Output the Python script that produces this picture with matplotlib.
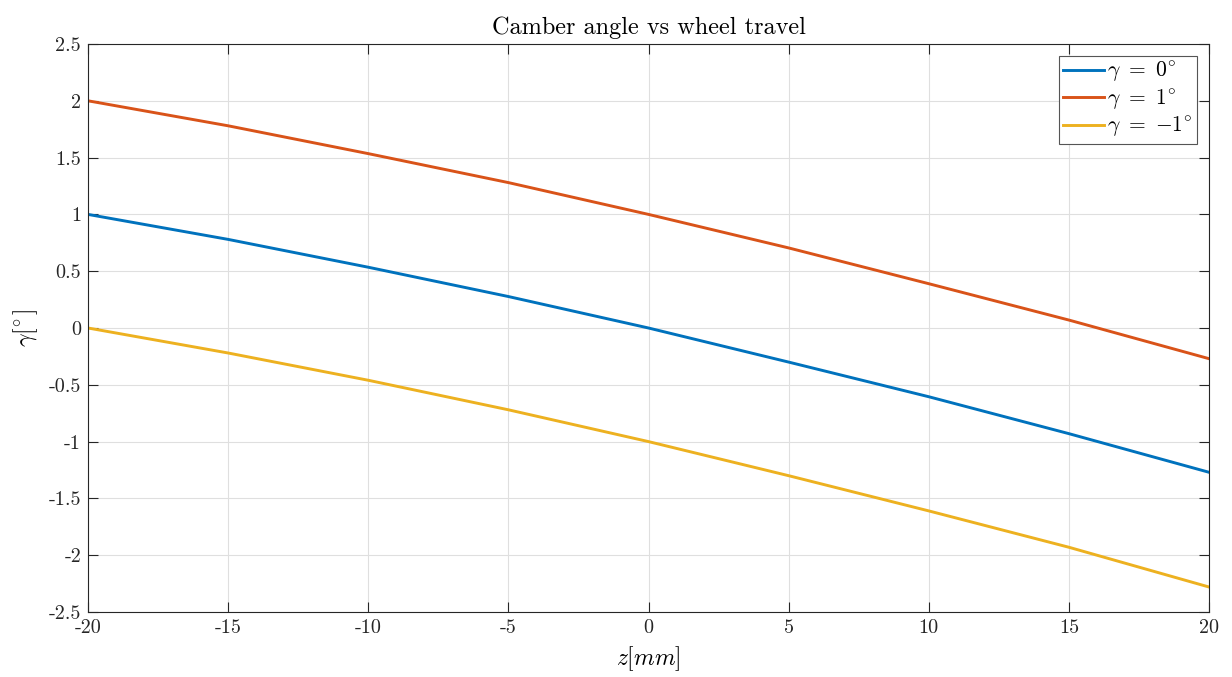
import numpy as np
import matplotlib
matplotlib.use('Agg')
import matplotlib.pyplot as plt
from matplotlib.ticker import FuncFormatter

# data
z = [-20, -15, -10, -5, 0, 5, 10, 15, 20]
gamma_0 = [1.0, 0.78, 0.535, 0.277, 0.0, -0.30, -0.605, -0.93, -1.27]
gamma_p1 = [2.0, 1.78, 1.535, 1.28, 1.0, 0.705, 0.39, 0.07, -0.27]
gamma_m1 = [0.0, -0.22, -0.46, -0.72, -1.0, -1.30, -1.61, -1.93, -2.28]
labels = [r'$\gamma\ =\ 0^{\!\circ}$', r'$\gamma\ =\ 1^{\!\circ}$', r'$\gamma\ =\ {-1}^{\!\circ}$']

xticks = [-20, -15, -10, -5, 0, 5, 10, 15, 20]
yticks = [-2.5, -2, -1.5, -1, -0.5, 0, 0.5, 1, 1.5, 2, 2.5]

plt.rcParams['font.family'] = ['cmr10', 'DejaVu Serif']
plt.rcParams['mathtext.fontset'] = 'cm'
plt.rcParams['axes.unicode_minus'] = False
plt.rcParams['axes.formatter.use_mathtext'] = True

fig = plt.figure(figsize=(12.32, 6.77), dpi=100)
ax = fig.add_axes([88/1232, 1 - 612/677, (1209-88)/1232, (612-44)/677])

colors = ['#0072BD', '#D95319', '#EDB120']
for y, c, lab in zip([gamma_0, gamma_p1, gamma_m1], colors, labels):
    ax.plot(z, y, color=c, lw=2.1, label=lab)

ax.set_xlim(-20, 20)
ax.set_ylim(-2.5, 2.5)
ax.set_xticks(xticks)
ax.set_yticks(yticks)
fmt = FuncFormatter(lambda v, p: '%g' % v)
ax.xaxis.set_major_formatter(fmt)
ax.yaxis.set_major_formatter(fmt)
ax.tick_params(direction='in', length=7, width=0.8, colors='#262626',
               labelsize=14.5, top=True, right=True, pad=5)
for s in ax.spines.values():
    s.set_color('#262626')
    s.set_linewidth(0.8)

ax.grid(True, color='#dfdfdf', linewidth=0.8)
ax.set_axisbelow(True)

ax.set_title('Camber angle vs wheel travel', fontsize=17.5, pad=7)
ax.set_xlabel(r'$z[mm]$', fontsize=17, labelpad=5)
ax.set_ylabel(r'$\gamma[^{\!\circ}]$', fontsize=17, labelpad=6)

leg = ax.legend(loc='upper right', fontsize=15.5, fancybox=False, framealpha=1,
                edgecolor='#555555', handlelength=1.9, handletextpad=0.15,
                borderpad=0.2, labelspacing=0.15, borderaxespad=0.55)
leg.get_frame().set_linewidth(0.8)

plt.savefig('out.png', dpi=100)
